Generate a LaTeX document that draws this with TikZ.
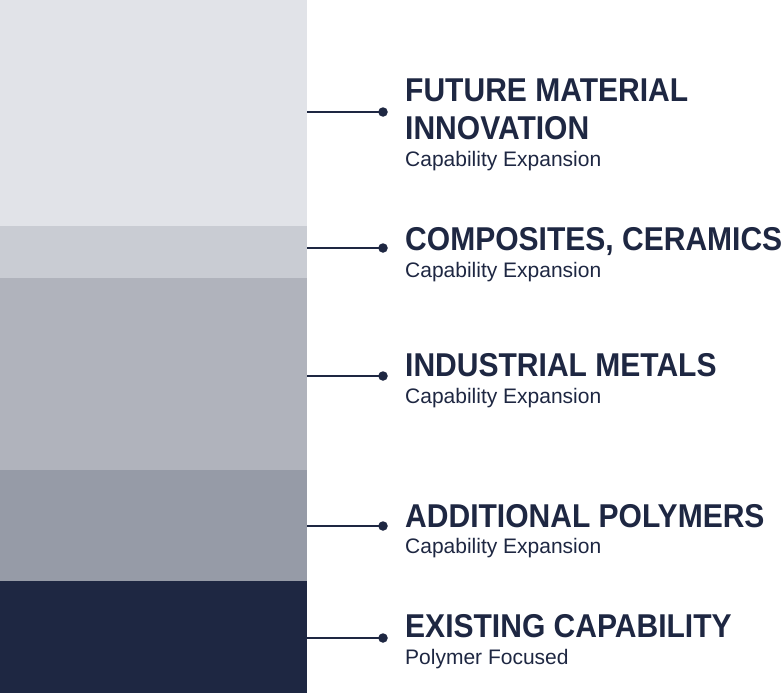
\documentclass[tikz,border=0pt]{standalone}
\usepackage{fontspec}
\setmainfont{Liberation Sans}
\newfontfamily\headfont{Liberation Sans}[FakeStretch=0.91]
\definecolor{navy}{HTML}{1E2742}
\definecolor{bandA}{HTML}{E1E3E8}
\definecolor{bandB}{HTML}{C9CCD3}
\definecolor{bandC}{HTML}{B0B3BC}
\definecolor{bandD}{HTML}{969BA7}
\definecolor{bandE}{HTML}{1E2742}
\tikzset{
  head/.style={anchor=base west, inner sep=0pt, text=navy, font=\headfont\bfseries\fontsize{33}{38}\selectfont},
  sub/.style={anchor=base west, inner sep=0pt, text=navy, font=\fontsize{21}{24}\selectfont},
  dot/.style={circle, fill=navy, inner sep=0pt, minimum size=9.5pt},
  link/.style={draw=navy, line width=2.3pt},
  band/.style={rectangle, inner sep=0pt, draw=none}
}
\begin{document}
\begin{tikzpicture}[x=1pt,y=-1pt]
\useasboundingbox (0,0) rectangle (783,693);
\fill[white] (0,0) rectangle (783,693);
% bands
\node[band, fill=bandA, minimum width=307pt, minimum height=226pt, anchor=north west] (b1) at (0,0) {};
\node[band, fill=bandB, minimum width=307pt, minimum height=52pt, anchor=north west] (b2) at (0,226) {};
\node[band, fill=bandC, minimum width=307pt, minimum height=192pt, anchor=north west] (b3) at (0,278) {};
\node[band, fill=bandD, minimum width=307pt, minimum height=111pt, anchor=north west] (b4) at (0,470) {};
\node[band, fill=bandE, minimum width=307pt, minimum height=112pt, anchor=north west] (b5) at (0,581) {};
% connector start points
\coordinate (s1) at (307,112);
\coordinate (s2) at (307,248);
\coordinate (s3) at (307,376);
\coordinate (s4) at (307,526);
\coordinate (s5) at (307,638);
% dots
\node[dot] (d1) at (383,112) {};
\node[dot] (d2) at (383,248) {};
\node[dot] (d3) at (383,376) {};
\node[dot] (d4) at (383,526) {};
\node[dot] (d5) at (383,638) {};
\draw[link] (s1) -- (d1.center);
\draw[link] (s2) -- (d2.center);
\draw[link] (s3) -- (d3.center);
\draw[link] (s4) -- (d4.center);
\draw[link] (s5) -- (d5.center);
% labels
\node[head] (h1a) at (405,101) {FUTURE MATERIAL};
\node[head] (h1b) at (405,139) {INNOVATION};
\node[sub] (t1) at (405,166) {Capability Expansion};
\node[head] (h2) at (405,250) {COMPOSITES, CERAMICS};
\node[sub] (t2) at (405,277) {Capability Expansion};
\node[head] (h3) at (405,376) {INDUSTRIAL METALS};
\node[sub] (t3) at (405,403) {Capability Expansion};
\node[head] (h4) at (405,527) {ADDITIONAL POLYMERS};
\node[sub] (t4) at (405,553) {Capability Expansion};
\node[head] (h5) at (405,637) {EXISTING CAPABILITY};
\node[sub] (t5) at (405,664) {Polymer Focused};
\end{tikzpicture}
\end{document}
